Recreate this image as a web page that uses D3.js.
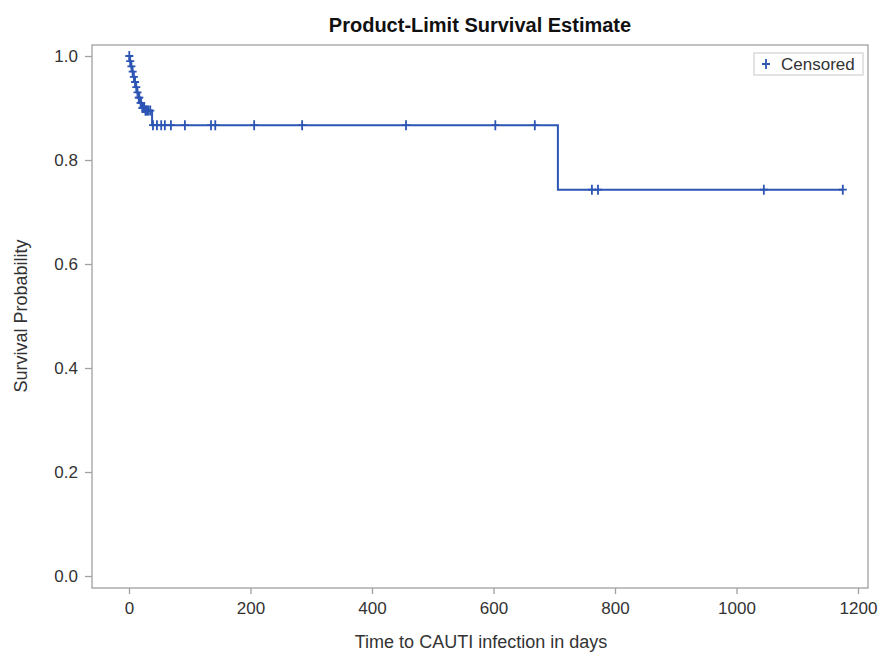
<!DOCTYPE html>
<html>
<head>
<meta charset="utf-8">
<script src="https://cdn.jsdelivr.net/npm/d3@7"></script>
<style>
  body { margin: 0; background: #fff; }
  text { font-family: "Liberation Sans", Arial, sans-serif; }
</style>
</head>
<body>
<div id="chart"></div>
<script>
// Kaplan-Meier step data
var eventTimes = [0, 1, 3, 5, 7, 9, 11, 13, 15, 18, 21, 26, 38, 706];
var survival = [1.0, 0.99, 0.98, 0.97, 0.96, 0.95, 0.94, 0.93, 0.92, 0.91, 0.90, 0.895, 0.867, 0.743];
var lastTime = 1175;

// Censored observations (days)
var censoredTimes = [0.5, 2, 4, 6, 8, 10, 12, 14, 16, 17, 19, 20, 22, 23, 24, 25, 27, 28, 30, 32, 35,
    39.5, 46, 53, 59, 69, 92, 135, 142, 206, 285, 456, 603, 668, 762, 772, 1045, 1175];

var xTicks = [0, 200, 400, 600, 800, 1000, 1200];
var yTicks = [0.0, 0.2, 0.4, 0.6, 0.8, 1.0];

var svgWidth = 878;
var svgHeight = 654;
var lineColor = "#2d55b4";

// Frame of the plot area
var frame = { left: 92, right: 868, top: 45, bottom: 588 };

var svg = d3.select("#chart")
    .append("svg")
    .attr("width", svgWidth)
    .attr("height", svgHeight);

var xScale = d3.scaleLinear()
    .domain([0, 1200])
    .range([129, 858]);

var yScale = d3.scaleLinear()
    .domain([0, 1])
    .range([576, 56]);

// Title
svg.append("text")
    .attr("x", 480)
    .attr("y", 32)
    .attr("text-anchor", "middle")
    .style("font-size", "20px")
    .style("font-weight", "bold")
    .attr("fill", "#111")
    .text("Product-Limit Survival Estimate");

// Frame
svg.append("rect")
    .attr("x", frame.left)
    .attr("y", frame.top)
    .attr("width", frame.right - frame.left)
    .attr("height", frame.bottom - frame.top)
    .attr("fill", "none")
    .attr("stroke", "#a0a0a0")
    .attr("stroke-width", 1.3);

// Axes
var bottomAxis = d3.axisBottom(xScale)
    .tickValues(xTicks)
    .tickSize(6)
    .tickPadding(8)
    .tickFormat(d3.format("d"));

var leftAxis = d3.axisLeft(yScale)
    .tickValues(yTicks)
    .tickSize(7)
    .tickPadding(7)
    .tickFormat(d3.format(".1f"));

var xAxisG = svg.append("g")
    .attr("transform", `translate(0, ${frame.bottom})`)
    .call(bottomAxis);

var yAxisG = svg.append("g")
    .attr("transform", `translate(${frame.left}, 0)`)
    .call(leftAxis);

[xAxisG, yAxisG].forEach(function(g) {
    g.select(".domain").remove();
    g.selectAll("line").attr("stroke", "#a0a0a0").attr("stroke-width", 1.3);
    g.selectAll("text")
        .attr("fill", "#333")
        .style("font-size", "17px")
        .style("font-family", "'Liberation Sans', Arial, sans-serif");
});

// Axis labels
svg.append("text")
    .attr("x", 481)
    .attr("y", 648)
    .attr("text-anchor", "middle")
    .style("font-size", "18px")
    .attr("fill", "#333")
    .text("Time to CAUTI infection in days");

svg.append("text")
    .attr("transform", "rotate(-90)")
    .attr("x", -316)
    .attr("y", 27)
    .attr("text-anchor", "middle")
    .style("font-size", "18px")
    .attr("fill", "#333")
    .text("Survival Probability");

// Step curve
var stepData = eventTimes.map((t, i) => ({ t: t, s: survival[i] }));
stepData.push({ t: lastTime, s: survival[survival.length - 1] });

var line = d3.line()
    .x(d => xScale(d.t))
    .y(d => yScale(d.s))
    .curve(d3.curveStepAfter);

svg.append("path")
    .datum(stepData)
    .attr("fill", "none")
    .attr("stroke", lineColor)
    .attr("stroke-width", 2)
    .attr("d", line);

// Survival at a time (step function lookup)
function survivalAt(t) {
    var s = survival[0];
    eventTimes.forEach(function(et, i) {
        if (et <= t) s = survival[i];
    });
    return s;
}

// Censored marks as plus signs
var plus = "M-4,0H4M0,-5V5";
svg.selectAll(".censor")
    .data(censoredTimes)
    .enter()
    .append("path")
    .attr("class", "censor")
    .attr("transform", d => `translate(${xScale(d)}, ${yScale(survivalAt(d))})`)
    .attr("d", plus)
    .attr("stroke", lineColor)
    .attr("stroke-width", 1.8)
    .attr("fill", "none");

// Legend
var legend = svg.append("g");
legend.append("rect")
    .attr("x", 754)
    .attr("y", 53)
    .attr("width", 109)
    .attr("height", 22)
    .attr("fill", "#fff")
    .attr("stroke", "#c8c8c8");
legend.append("path")
    .attr("transform", "translate(766, 64)")
    .attr("d", plus)
    .attr("stroke", lineColor)
    .attr("stroke-width", 1.8);
legend.append("text")
    .attr("x", 781)
    .attr("y", 70)
    .style("font-size", "17px")
    .attr("fill", "#333")
    .text("Censored");
</script>
</body>
</html>
